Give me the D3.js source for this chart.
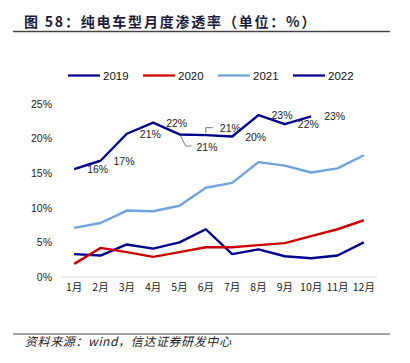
<!DOCTYPE html>
<html><head><meta charset="utf-8">
<script src="https://cdn.jsdelivr.net/npm/d3@7"></script>
<style>
html,body{margin:0;padding:0;background:#fff;}
svg{display:block;}
</style></head>
<body>
<svg id="c" width="410" height="363"></svg>
<script>
const months = ["1月","2月","3月","4月","5月","6月","7月","8月","9月","10月","11月","12月"];
const s2019 = [3.3,3.1,4.7,4.1,5.0,6.9,3.3,4.0,3.0,2.7,3.1,5.0];
const s2020 = [1.9,4.2,3.6,2.9,3.6,4.3,4.3,4.6,4.9,5.9,6.9,8.2];
const s2021 = [7.1,7.8,9.6,9.5,10.3,12.9,13.6,16.6,16.1,15.1,15.7,17.6];
const s2022 = [15.6,16.8,20.7,22.3,20.6,20.5,20.3,23.4,22.1,23.2];
const labels2022 = ["16%","17%","21%","22%","21%","21%","20%","23%","22%","23%"];
const yTicks = [0,5,10,15,20,25];
const seriesNames = ["2019","2020","2021","2022"];
const colors = ["#00008f","#cc0000","#6fa3dc","#00008f"];

const svg = d3.select("#c");
const x = d3.scaleBand().domain(months).range([61,377]);
const y = d3.scaleLinear().domain([0,25]).range([277,104]);
const cx = m => x(m) + x.bandwidth()/2;

// title
svg.append("text").attr("x",24).attr("y",27)
  .attr("font-family","'Noto Sans CJK SC', sans-serif").attr("font-weight","bold")
  .attr("font-size","14px").attr("letter-spacing","1.8px").attr("fill","#1c1c3a")
  .text("图 58：纯电车型月度渗透率（单位：%）");
svg.append("line").attr("x1",13).attr("x2",390).attr("y1",31.5).attr("y2",31.5)
  .attr("stroke","#444").attr("stroke-width",1.5);

// footer
svg.append("line").attr("x1",13).attr("x2",390).attr("y1",334).attr("y2",334)
  .attr("stroke","#444").attr("stroke-width",1.2);
svg.append("text").attr("x",25).attr("y",346)
  .attr("font-family","'Noto Sans CJK SC', sans-serif").attr("font-style","italic")
  .attr("font-size","12px").attr("letter-spacing","0.6px").attr("fill","#222")
  .text("资料来源：wind，信达证券研发中心");

// legend
const legX = [68,143,218,293];
seriesNames.forEach((n,i)=>{
  svg.append("line").attr("x1",legX[i]).attr("x2",legX[i]+32).attr("y1",75.5).attr("y2",75.5)
    .attr("stroke",colors[i]).attr("stroke-width",2.25);
  svg.append("text").attr("x",legX[i]+35).attr("y",79.5)
    .attr("font-family","'Liberation Sans', Arial, sans-serif").attr("font-size","11.5px")
    .attr("fill","#111").text(n);
});

// baseline
svg.append("line").attr("x1",61).attr("x2",377).attr("y1",y(0)).attr("y2",y(0))
  .attr("stroke","#d9d9d9").attr("stroke-width",1);

// y axis
const yAxis = d3.axisLeft(y).tickValues(yTicks).tickFormat(d=>d+"%").tickSize(0).tickPadding(0);
const gy = svg.append("g").attr("transform","translate(52,0)").call(yAxis);
gy.select(".domain").remove();
gy.selectAll("text").attr("font-family","'Liberation Sans', Arial, sans-serif")
  .attr("font-size","10.5px").attr("fill","#222");

// x axis
const xAxis = d3.axisBottom(x).tickSize(0).tickPadding(0);
const gx = svg.append("g").attr("transform","translate(0,284)").call(xAxis);
gx.select(".domain").remove();
gx.selectAll("text").attr("font-family","'Noto Sans CJK SC', sans-serif")
  .attr("font-size","10.5px").attr("fill","#222");

// lines
const line = d3.line().x((d,i)=>cx(months[i])).y(d=>y(d));
[s2019,s2020,s2021,s2022].forEach((s,i)=>{
  svg.append("path").datum(s).attr("d",line).attr("fill","none")
    .attr("stroke",colors[i]).attr("stroke-width",2.4).attr("stroke-linejoin","round");
});

// 2022 labels
const lab = svg.append("g").attr("font-family","'Liberation Sans', Arial, sans-serif")
  .attr("font-size","10.5px").attr("fill","#222");
s2022.forEach((v,i)=>{
  let px = cx(months[i]), py = y(v);
  let dx = 13, dy = 4;
  if(i===4){ dy = 17; dx = 17; }
  if(i===5){ dy = -3; dx = 14; }
  lab.append("text").attr("x",px+dx).attr("y",py+dy).text(labels2022[i]);
});
// leader lines
{
  const p4x = cx(months[4]), p4y = y(s2022[4]);
  svg.append("polyline").attr("points",`${p4x+1},${p4y+1} ${p4x+6},${p4y+11.5} ${p4x+12},${p4y+11.5}`)
    .attr("fill","none").attr("stroke","#555").attr("stroke-width",0.8);
  const p5x = cx(months[5]), p5y = y(s2022[5]);
  svg.append("polyline").attr("points",`${p5x},${p5y-2} ${p5x},${p5y-7.5} ${p5x+7},${p5y-7.5}`)
    .attr("fill","none").attr("stroke","#555").attr("stroke-width",0.8);
}
</script>
</body></html>
